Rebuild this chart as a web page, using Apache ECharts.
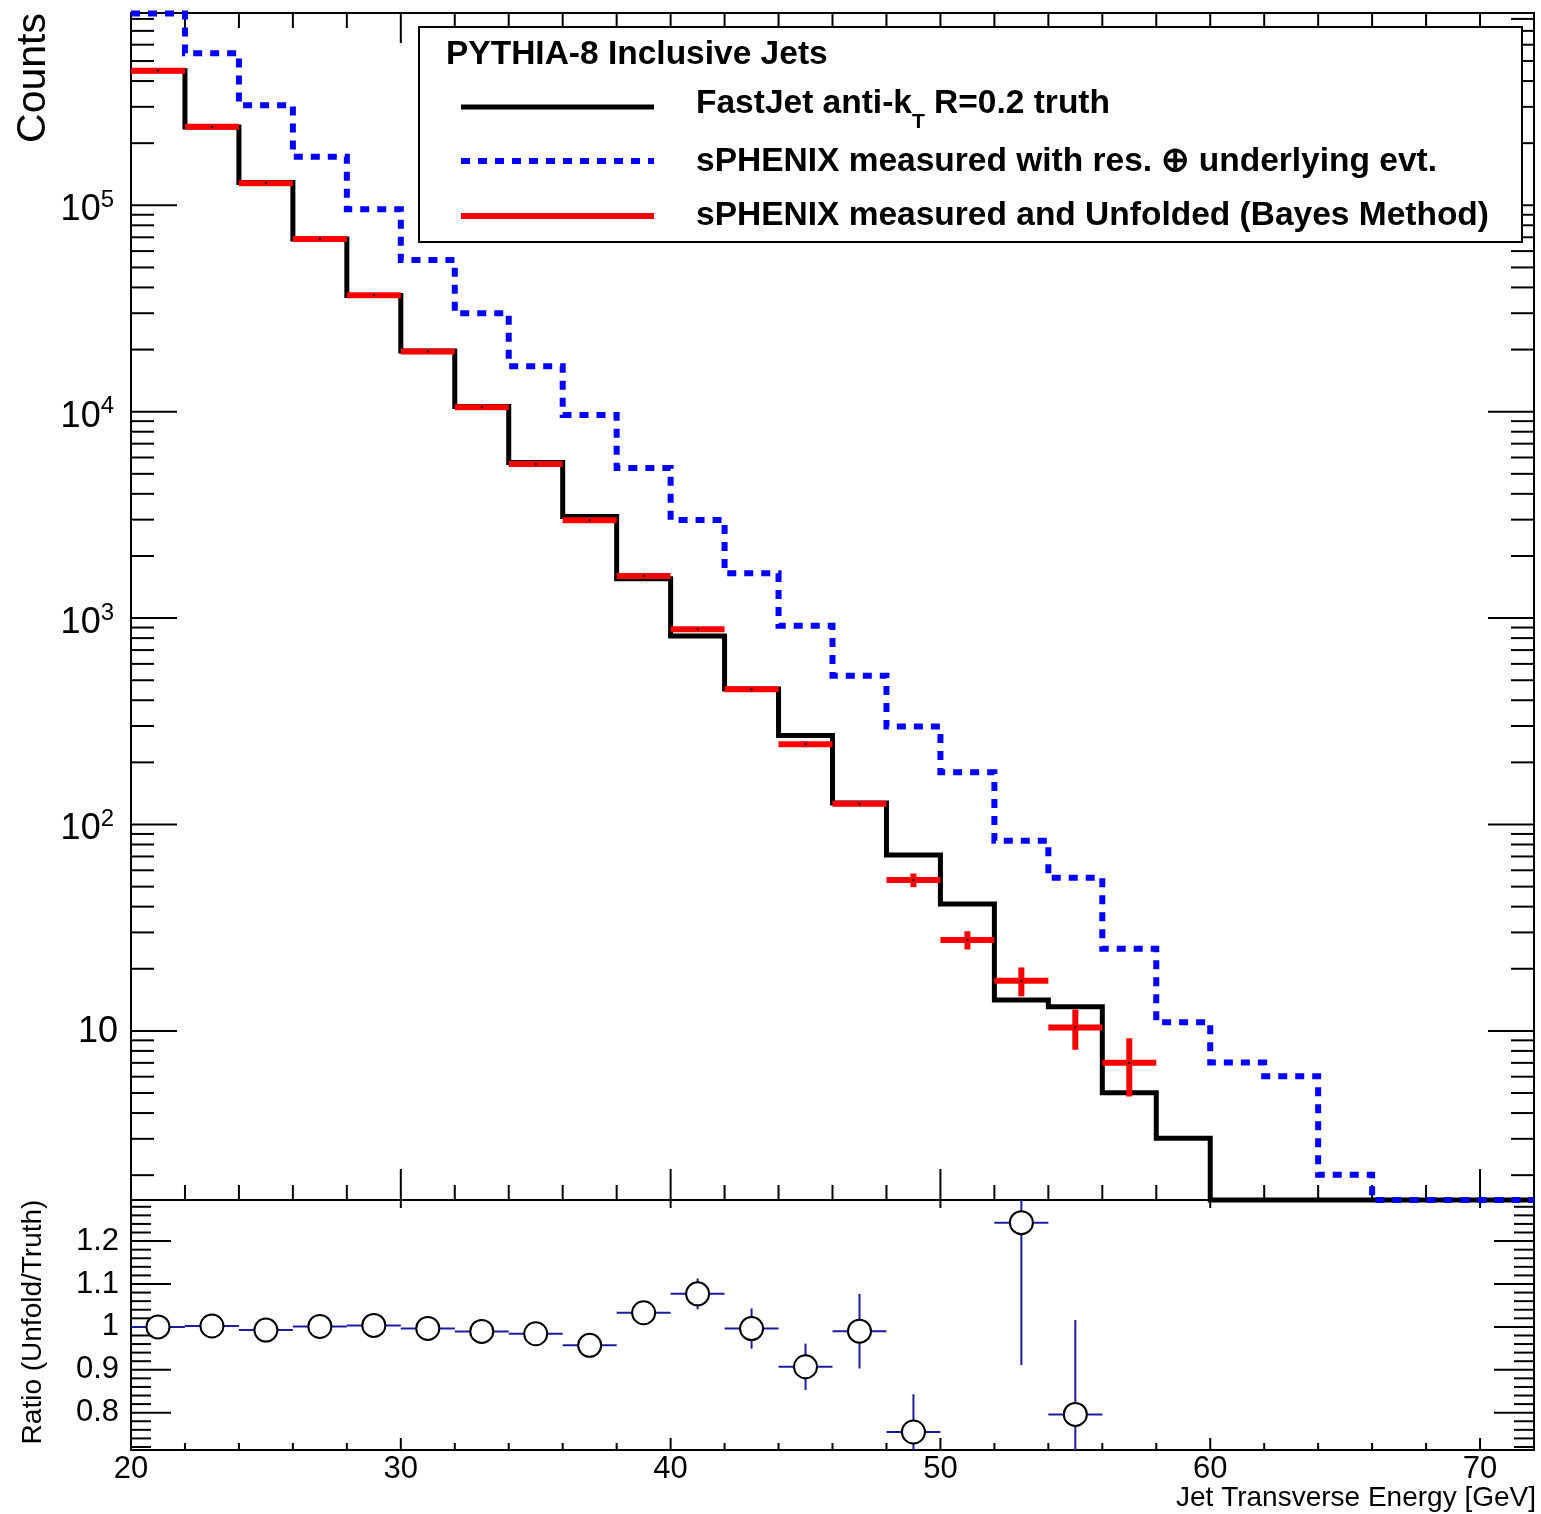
<!DOCTYPE html>
<html><head><meta charset="utf-8">
<script src="https://cdn.jsdelivr.net/npm/echarts@6/dist/echarts.min.js"></script>
<style>html,body{margin:0;padding:0;background:#fff}#c{width:1541px;height:1514px}</style>
</head><body><div id="c"></div>
<script>
// ---------------- data ----------------
const binLowEdges = [20,22,24,26,28,30,32,34,36,38,40,42,44,46,48,50,52,54,56,58,60,62,64,66,68,70];
const binWidth = 2;
// FastJet anti-kT R=0.2 truth
const truthCounts = [4.49e5,2.395e5,1.29e5,6.86e4,3.66e4,1.967e4,1.061e4,5.67e3,3.11e3,1.55e3,820,454,270,127,71.2,41.2,14.1,13.1,5.02,3.02,0,0,0,0,0,0];
// sPHENIX measured with res. (+) underlying evt.
const measuredCounts = [8.5e5,5.45e5,3.05e5,1.72e5,9.57e4,5.43e4,3.0e4,1.66e4,9.64e3,5.33e3,2.99e3,1.65e3,918,526,298,179,83.5,55.2,25.0,11.0,7.02,6.03,2.01,0,0,0];
// sPHENIX measured and Unfolded (Bayes)
const unfoldedCounts = [4.49e5,2.40e5,1.28e5,6.87e4,3.67e4,1.96e4,1.05e4,5.58e3,2.98e3,1.60e3,883,452,245,126,53.8,27.6,17.5,10.4,7.01];
const unfoldedErrors = [700,500,350,260,190,140,100,75,55,40,20,14,8,2.8,4.1,2.8,2.8,2.3,2.2];
// Ratio (Unfold/Truth)
const ratioCenters = [21,23,25,27,29,31,33,35,37,39,41,43,45,47,49,51,53,55];
const ratioValues  = [1.000,1.002,0.9925,1.001,1.0035,0.9965,0.9895,0.984,0.957,1.033,1.077,0.996,0.907,0.990,0.755,null,1.243,0.796];
const ratioErrors  = [0.002,0.003,0.004,0.005,0.006,0.008,0.010,0.012,0.015,0.022,0.036,0.047,0.054,0.087,0.088,0,0.332,0.22];
// ticks / labels
const xMajorTicks = [20,30,40,50,60,70];
const xMinorTicks = [22,24,26,28,32,34,36,38,42,44,46,48,52,54,56,58,62,64,66,68];
const countsMajorTicks = [10,100,1000,10000,100000];
const countsTickExponents = [1,2,3,4,5];
const ratioMajorTicks = [0.8,0.9,1.0,1.1,1.2];
const ratioTickLabels = ['0.8','0.9','1','1.1','1.2'];

const YMIN = 1.516, YMAX = 8.545e5, RMIN = 0.713, RMAX = 1.2958, XMIN = 20, XMAX = 72;
const FONT = '"Liberation Sans", Arial, Helvetica, sans-serif';

// minor tick positions (axis decoration)
const countsMinorTicks = [];
for (let d = 1; d <= 1e5; d *= 10) for (let m = 2; m <= 9; m++) { const v = m * d; if (v > YMIN && v < YMAX) countsMinorTicks.push(v); }
const ratioMinorTicks = [];
for (let k = 36; k <= 64; k++) { const v = k * 0.02; if (Math.abs(v * 10 - Math.round(v * 10)) > 1e-6 && v > RMIN && v < RMAX) ratioMinorTicks.push(v); }

const disp = v => (v > 0 ? v : YMIN);
function stepData(vals) {
  const d = binLowEdges.map((x, i) => [x, disp(vals[i])]);
  d.push([binLowEdges[binLowEdges.length - 1] + binWidth, disp(vals[vals.length - 1])]);
  return d;
}

function ln(x1, y1, x2, y2, w, c) {
  return { type: 'line', shape: { x1, y1, x2, y2 }, style: { stroke: c || '#000', lineWidth: w || 2, lineCap: 'butt' } };
}

// ticks + log labels for top panel
function topDecor(params, api) {
  const cs = params.coordSys;
  const L = cs.x, R = cs.x + cs.width, T = cs.y, B = cs.y + cs.height;
  const ch = [];
  xMajorTicks.forEach(t => { const px = api.coord([t, 10])[0]; ch.push(ln(px, B + 8, px, B - 31)); ch.push(ln(px, T, px, T + 30)); });
  xMinorTicks.forEach(t => { const px = api.coord([t, 10])[0]; ch.push(ln(px, B, px, B - 15)); ch.push(ln(px, T, px, T + 15)); });
  countsMajorTicks.forEach((t, i) => {
    const py = api.coord([20, t])[1];
    ch.push(ln(L, py, L + 46, py)); ch.push(ln(R, py, R - 46, py));
    const e = countsTickExponents[i];
    if (e === 1) {
      ch.push({ type: 'text', x: L - 13, y: py + 1, style: { text: '10', fontSize: 36, fontFamily: FONT, fill: '#000', align: 'right', textAlign: 'right', verticalAlign: 'middle', textVerticalAlign: 'middle' } });
    } else {
      ch.push({ type: 'text', x: L - 17, y: py + 5, style: {
        text: '{b|10}{s|' + e + '}', align: 'right', textAlign: 'right', verticalAlign: 'middle', textVerticalAlign: 'middle', fill: '#000',
        rich: { b: { fontSize: 36, lineHeight: 44, fontFamily: FONT, fill: '#000' }, s: { fontSize: 24, lineHeight: 24, fontFamily: FONT, verticalAlign: 'top', fill: '#000' } } } });
    }
  });
  countsMinorTicks.forEach(t => { const py = api.coord([20, t])[1]; ch.push(ln(L, py, L + 23, py)); ch.push(ln(R, py, R - 23, py)); });
  return { type: 'group', children: ch };
}
function ratioDecor(params, api) {
  const cs = params.coordSys;
  const L = cs.x, R = cs.x + cs.width, B = cs.y + cs.height;
  const ch = [];
  xMajorTicks.forEach(t => { const px = api.coord([t, 1])[0]; ch.push(ln(px, B, px, B - 12)); });
  xMinorTicks.forEach(t => { const px = api.coord([t, 1])[0]; ch.push(ln(px, B, px, B - 7)); });
  ratioMajorTicks.forEach(t => { const py = api.coord([20, t])[1]; ch.push(ln(L, py, L + 40, py)); ch.push(ln(R, py, R - 40, py)); });
  ratioMinorTicks.forEach(t => { const py = api.coord([20, t])[1]; ch.push(ln(L, py, L + 20, py)); ch.push(ln(R, py, R - 20, py)); });
  return { type: 'group', children: ch };
}

function unfoldedItem(params, api) {
  const lo = api.value(0), v = api.value(1), e = api.value(2);
  const a = api.coord([lo, v]), b = api.coord([lo + binWidth, v]);
  const c = api.coord([lo + binWidth / 2, v]);
  const up = api.coord([lo + binWidth / 2, Math.min(v + e, YMAX)]);
  const dn = api.coord([lo + binWidth / 2, Math.max(v - e, YMIN)]);
  return { type: 'group', children: [
    ln(a[0], a[1], b[0], b[1], 6, '#ff0000'),
    ln(c[0], up[1], c[0], dn[1], 6, '#ff0000'),
    { type: 'rect', shape: { x: c[0] - 1, y: c[1] - 1, width: 2, height: 2 }, style: { fill: '#000' } }
  ] };
}
function ratioItem(params, api) {
  const x = api.value(0), r = api.value(1), e = api.value(2);
  const c = api.coord([x, r]);
  const a = api.coord([x - binWidth / 2, r]), b = api.coord([x + binWidth / 2, r]);
  const up = api.coord([x, Math.min(r + e, RMAX)]), dn = api.coord([x, Math.max(r - e, RMIN)]);
  const NAVY = '#1c1ca0';
  return { type: 'group', children: [
    ln(a[0], c[1], b[0], c[1], 2, NAVY),
    ln(c[0], up[1], c[0], dn[1], 2, NAVY),
    { type: 'circle', shape: { cx: c[0], cy: c[1], r: 11.5 }, style: { fill: '#fff', stroke: '#000', lineWidth: 2 } }
  ] };
}

const unfoldedData = unfoldedCounts.map((v, i) => [binLowEdges[i], v, unfoldedErrors[i]]);
const ratioData = [];
ratioCenters.forEach((x, i) => { if (ratioValues[i] != null) ratioData.push([x, ratioValues[i], ratioErrors[i]]); });

const chart = echarts.init(document.getElementById('c'), null, { renderer: 'canvas' });
const boldText = (x, y, text) => ({ type: 'text', z: 101, x, y, style: { text, fontSize: 33.5, fontWeight: 'bold', fontFamily: FONT, fill: '#000', align: 'left', textAlign: 'left', verticalAlign: 'middle', textVerticalAlign: 'middle' } });

chart.setOption({
  animation: false,
  backgroundColor: '#fff',
  grid: [
    { left: 131, top: 13, width: 1403, height: 1187, show: true, borderColor: '#000', borderWidth: 2, backgroundColor: 'transparent' },
    { left: 131, top: 1200, width: 1403, height: 250, show: true, borderColor: '#000', borderWidth: 2, backgroundColor: 'transparent' }
  ],
  xAxis: [
    { gridIndex: 0, type: 'value', min: XMIN, max: XMAX, axisLine: { show: false }, axisTick: { show: false }, axisLabel: { show: false }, splitLine: { show: false } },
    { gridIndex: 1, type: 'value', min: XMIN, max: XMAX, axisLine: { show: false }, axisTick: { show: false }, splitLine: { show: false },
      axisLabel: { customValues: xMajorTicks, fontSize: 31, fontFamily: FONT, color: '#000', margin: 4 } }
  ],
  yAxis: [
    { gridIndex: 0, type: 'log', logBase: 10, min: YMIN, max: YMAX, axisLine: { show: false }, axisTick: { show: false }, axisLabel: { show: false }, splitLine: { show: false } },
    { gridIndex: 1, type: 'value', min: RMIN, max: RMAX, axisLine: { show: false }, axisTick: { show: false }, splitLine: { show: false },
      axisLabel: { customValues: ratioMajorTicks, fontSize: 31, fontFamily: FONT, color: '#000', margin: 12,
        formatter: v => { const i = ratioMajorTicks.findIndex(t => Math.abs(t - v) < 1e-6); return i >= 0 ? ratioTickLabels[i] : ''; } } }
  ],
  series: [
    { type: 'custom', xAxisIndex: 0, yAxisIndex: 0, data: [[20, 10]], renderItem: topDecor, z: 1, silent: true },
    { type: 'custom', xAxisIndex: 1, yAxisIndex: 1, data: [[20, 1]], renderItem: ratioDecor, z: 1, silent: true },
    { name: 'truth', type: 'line', xAxisIndex: 0, yAxisIndex: 0, step: 'end', symbol: 'none', clip: false, z: 3,
      data: stepData(truthCounts), lineStyle: { color: '#000', width: 5, cap: 'butt', join: 'miter' } },
    { name: 'measured', type: 'line', xAxisIndex: 0, yAxisIndex: 0, step: 'end', symbol: 'none', clip: false, z: 4,
      data: stepData(measuredCounts), lineStyle: { color: '#0000ff', width: 6, type: [9, 8], cap: 'butt', join: 'miter' } },
    { name: 'unfolded', type: 'custom', xAxisIndex: 0, yAxisIndex: 0, data: unfoldedData, renderItem: unfoldedItem, z: 5 },
    { name: 'ratio', type: 'custom', xAxisIndex: 1, yAxisIndex: 1, data: ratioData, renderItem: ratioItem, z: 5 }
  ],
  graphic: [
    { type: 'rect', z: 100, shape: { x: 419, y: 27, width: 1103, height: 215 }, style: { fill: '#fff', stroke: '#000', lineWidth: 2 } },
    boldText(446, 55, 'PYTHIA-8 Inclusive Jets'),
    { type: 'line', z: 101, shape: { x1: 461, y1: 107, x2: 654, y2: 107 }, style: { stroke: '#000', lineWidth: 5 } },
    { type: 'line', z: 101, shape: { x1: 461, y1: 161, x2: 654, y2: 161 }, style: { stroke: '#0000ff', lineWidth: 6, lineDash: [9, 8] } },
    { type: 'line', z: 101, shape: { x1: 461, y1: 216, x2: 654, y2: 216 }, style: { stroke: '#ff0000', lineWidth: 6 } },
    { type: 'text', z: 101, x: 696, y: 104, style: {
        text: '{a|FastJet anti-k}{s|T}{a| R=0.2 truth}', align: 'left', textAlign: 'left', verticalAlign: 'middle', textVerticalAlign: 'middle', fill: '#000',
        rich: { a: { fontSize: 33.5, fontWeight: 'bold', fontFamily: FONT, lineHeight: 58, fill: '#000' },
                s: { fontSize: 21, fontWeight: 'bold', fontFamily: FONT, lineHeight: 21, verticalAlign: 'bottom', fill: '#000' } } } },
    boldText(696, 162, 'sPHENIX measured with res. \u2295 underlying evt.'),
    boldText(696, 216, 'sPHENIX measured and Unfolded (Bayes Method)'),
    { type: 'text', x: 34, y: 13, rotation: Math.PI / 2, style: { text: 'Counts', fontSize: 41, fontFamily: FONT, fill: '#000', align: 'right', textAlign: 'right', verticalAlign: 'middle', textVerticalAlign: 'middle' } },
    { type: 'text', x: 33, y: 1322, rotation: Math.PI / 2, style: { text: 'Ratio (Unfold/Truth)', fontSize: 28, fontFamily: FONT, fill: '#000', align: 'center', textAlign: 'center', verticalAlign: 'middle', textVerticalAlign: 'middle' } },
    { type: 'text', x: 1536, y: 1498, style: { text: 'Jet Transverse Energy [GeV]', fontSize: 28, fontFamily: FONT, fill: '#000', align: 'right', textAlign: 'right', verticalAlign: 'middle', textVerticalAlign: 'middle' } }
  ]
});
</script>
</body></html>
